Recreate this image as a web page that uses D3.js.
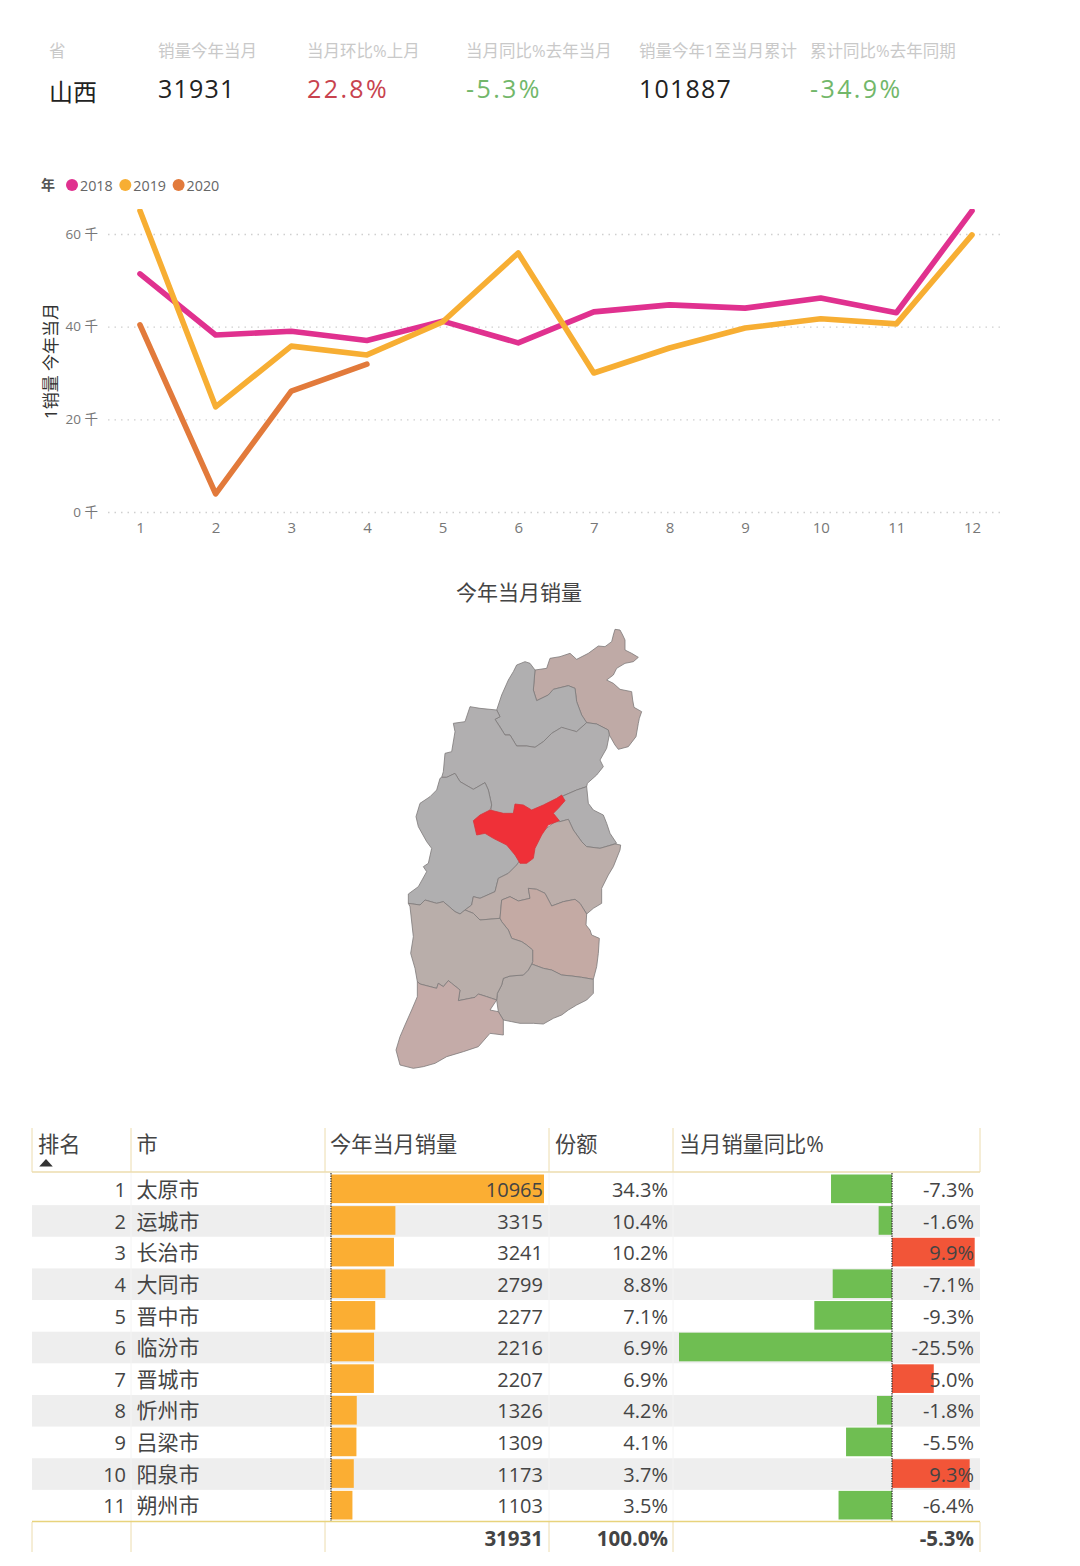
<!DOCTYPE html>
<html><head><meta charset="utf-8">
<script src="https://cdn.jsdelivr.net/npm/d3@7"></script>
<style>
html,body{margin:0;padding:0;background:#fff}
svg{display:block}
text{font-family:"Open Sans","Noto Sans CJK SC",sans-serif}
</style></head><body>
<svg id="c" width="1080" height="1566"></svg>
<script>
// ---------- data ----------
const kpiLabels=["省","销量今年当月","当月环比%上月","当月同比%去年当月","销量今年1至当月累计","累计同比%去年同期"];
const kpiValues=["山西","31931","22.8%","-5.3%","101887","-34.9%"];
const months=[1,2,3,4,5,6,7,8,9,10,11,12];
const years=["2018","2019","2020"];
const sales2018=[51400,38200,39000,37000,41200,36500,43200,44700,44000,46200,43000,65000];
const sales2019=[65000,22700,35800,33900,41000,55900,30000,35400,39700,41700,40600,59800];
const sales2020=[40400,3900,26100,31900];
const yTicks=[0,20000,40000,60000];
const tableHeaders=["排名","市","今年当月销量","份额","当月销量同比%"];
const ranks=[1,2,3,4,5,6,7,8,9,10,11];
const cities=["太原市","运城市","长治市","大同市","晋中市","临汾市","晋城市","忻州市","吕梁市","阳泉市","朔州市"];
const citySales=[10965,3315,3241,2799,2277,2216,2207,1326,1309,1173,1103];
const cityShare=[34.3,10.4,10.2,8.8,7.1,6.9,6.9,4.2,4.1,3.7,3.5];
const cityYoy=[-7.3,-1.6,9.9,-7.1,-9.3,-25.5,5.0,-1.8,-5.5,9.3,-6.4];
const totals=["31931","100.0%","-5.3%"];
// map outlines, in survey units
const shapeDatong=[[705,28],[720,30],[728,45],[735,60],[735,90],[755,100],[775,112],[760,125],[735,130],[710,145],[700,165],[680,180],[700,190],[720,208],[755,215],[758,240],[762,262],[785,275],[778,295],[775,310],[768,350],[745,380],[715,388],[705,375],[688,345],[685,330],[650,312],[620,308],[605,285],[590,245],[585,205],[565,197],[520,208],[505,225],[470,242],[460,210],[465,150],[500,145],[510,115],[540,110],[570,100],[590,118],[625,100],[655,78],[675,80],[695,65],[700,45]];
const shapeShuozhou=[[465,150],[450,130],[435,125],[410,135],[400,155],[385,180],[365,225],[350,270],[360,290],[345,298],[360,320],[375,345],[390,345],[410,378],[440,378],[465,382],[490,365],[515,340],[545,322],[565,330],[590,335],[620,308],[605,285],[590,245],[585,205],[565,197],[520,208],[505,225],[470,242],[460,210]];
const shapeXinzhou=[[270,260],[300,265],[350,270],[360,290],[345,298],[375,345],[390,345],[410,378],[440,378],[465,382],[490,365],[515,340],[545,322],[590,335],[620,308],[650,312],[685,330],[688,345],[680,385],[660,420],[670,440],[650,465],[622,490],[620,500],[590,510],[550,527],[525,560],[490,590],[440,590],[410,590],[380,590],[330,590],[335,555],[325,510],[315,488],[280,508],[240,485],[225,460],[200,472],[185,472],[190,455],[195,400],[215,395],[225,335],[220,310],[255,305]];
const shapeLvliang=[[185,472],[200,472],[225,460],[240,485],[280,508],[315,488],[325,510],[335,555],[330,570],[350,600],[380,640],[415,690],[425,720],[410,735],[385,760],[355,775],[345,815],[300,835],[280,830],[275,855],[255,870],[240,882],[225,875],[190,845],[170,850],[135,840],[120,855],[85,850],[85,822],[115,800],[140,755],[130,740],[145,730],[155,685],[140,665],[115,620],[108,590],[120,550],[150,530],[170,510],[180,475]];
const shapeYangquan=[[620,500],[625,550],[640,570],[670,585],[680,610],[690,640],[710,670],[660,685],[620,680],[605,665],[580,630],[565,598],[540,605],[515,590],[525,560],[545,530],[590,510]];
const shapeJinzhong=[[540,605],[565,598],[580,630],[605,665],[620,680],[660,685],[705,672],[722,675],[720,690],[700,740],[685,765],[665,805],[665,850],[640,865],[620,882],[600,850],[585,838],[550,845],[515,858],[495,820],[470,808],[445,805],[450,835],[415,843],[390,830],[365,840],[360,895],[300,900],[280,880],[255,870],[275,855],[280,830],[300,835],[345,815],[355,775],[385,760],[410,735],[420,720],[440,715],[450,690],[480,640],[525,605]];
const shapeChangzhi=[[365,840],[390,830],[415,843],[450,835],[445,805],[470,808],[495,820],[515,858],[550,845],[585,838],[600,850],[620,882],[618,915],[630,930],[635,945],[658,955],[655,1000],[650,1040],[640,1078],[605,1072],[575,1068],[545,1065],[515,1050],[490,1045],[455,1032],[458,1025],[458,990],[440,975],[425,965],[395,955],[385,930],[365,905],[360,895]];
const shapeJincheng=[[640,1078],[640,1120],[620,1140],[590,1155],[565,1170],[545,1185],[520,1195],[490,1212],[460,1210],[420,1210],[395,1205],[370,1200],[355,1175],[350,1140],[352,1120],[365,1095],[370,1075],[390,1068],[430,1065],[445,1050],[455,1032],[490,1045],[515,1050],[545,1065],[575,1068],[605,1072]];
const shapeLinfen=[[85,850],[120,855],[135,840],[170,850],[190,845],[225,875],[240,882],[255,870],[280,880],[300,900],[360,895],[365,905],[385,930],[395,955],[425,965],[440,975],[458,990],[458,1025],[455,1032],[445,1050],[430,1065],[390,1068],[370,1075],[365,1095],[352,1120],[350,1140],[335,1135],[320,1130],[295,1122],[285,1132],[235,1142],[240,1110],[215,1090],[205,1082],[190,1100],[175,1090],[170,1105],[120,1092],[112,1085],[105,1045],[92,1000],[100,950],[90,860]];
const shapeYuncheng=[[112,1085],[120,1092],[170,1105],[175,1090],[190,1100],[205,1082],[215,1090],[240,1110],[235,1142],[285,1132],[295,1122],[320,1130],[335,1135],[350,1140],[330,1170],[355,1175],[370,1200],[370,1245],[330,1240],[295,1280],[250,1295],[200,1310],[165,1330],[130,1340],[100,1345],[60,1335],[48,1290],[60,1250],[75,1215],[95,1170],[112,1130]];
const shapeTaiyuan=[[280,602],[300,585],[330,570],[370,580],[400,580],[405,552],[430,555],[455,570],[490,555],[530,535],[545,525],[555,542],[535,565],[520,580],[538,602],[505,615],[485,645],[465,685],[460,715],[440,730],[420,730],[405,705],[380,675],[340,655],[315,640],[290,645]];
const mapShapes=[shapeDatong,shapeShuozhou,shapeXinzhou,shapeLvliang,shapeYangquan,shapeJinzhong,shapeChangzhi,shapeJincheng,shapeLinfen,shapeYuncheng];
const mapFills=["#bfaaa6","#b0afb0","#b1afb0","#b0afb0","#b1afb0","#bcaeaa","#c4aaa4","#b6adaa","#b9aeaa","#c4aba8"];

// ---------- drawing ----------
const svg=d3.select("#c");
const ink="#444";

// KPI strip
const kpiX=[49,158,307,466,639,810];
const kpiColors=["#222","#222","#c8434e","#72b76a","#222","#72b76a"];
svg.append("g").selectAll("text").data(kpiLabels).join("text")
  .attr("x",(d,i)=>kpiX[i]).attr("y",57).attr("font-size",16.5).attr("fill","#c9c9c9").text(d=>d);
svg.append("g").selectAll("text").data(kpiValues).join("text")
  .attr("x",(d,i)=>kpiX[i]).attr("y",(d,i)=>i?98:101)
  .attr("font-size",(d,i)=>i?25:24).attr("letter-spacing",(d,i)=>!i?0:(d.includes("%")?2.4:1.2))
  .attr("fill",(d,i)=>kpiColors[i]).text(d=>d);

// line chart
const xL=d3.scaleLinear().domain([1,12]).range([140,972]);
const yL=d3.scaleLinear().domain([0,60000]).range([512,234]);
const gridLeft=108,gridRight=1002;
const yAxis=d3.axisLeft(yL).tickValues(yTicks).tickFormat(d=>(d/1000)+" 千").tickSize(0).tickPadding(10);
const gy=svg.append("g").attr("transform",`translate(${gridLeft},0)`).call(yAxis);
gy.select(".domain").remove();
gy.selectAll("text").attr("font-size",13.5).attr("fill","#777");
gy.selectAll("line").attr("x2",gridRight-gridLeft).attr("stroke","#cfcfcf").attr("stroke-width",1.4).attr("stroke-dasharray","1.5 5");
const xAxis=d3.axisBottom(xL).tickValues(months).tickFormat(d3.format("d")).tickSize(0).tickPadding(10.5);
const gx=svg.append("g").attr("transform","translate(0,512)").call(xAxis);
gx.select(".domain").remove();
gx.selectAll("text").attr("font-size",15).attr("fill","#777");
svg.append("text").attr("transform","translate(57,361) rotate(-90)").attr("text-anchor","middle")
  .attr("font-size",17).attr("fill","#333").text("1销量 今年当月");
svg.append("defs").append("clipPath").attr("id","plot").append("rect")
  .attr("x",gridLeft).attr("y",209).attr("width",gridRight-gridLeft).attr("height",320);
const lineColors=["#e0318f","#f7ae33","#e27a3b"];
const line=d3.line().x((d,i)=>xL(months[i])).y(d=>yL(d));
const series=[sales2018,sales2019,sales2020];
svg.append("g").attr("clip-path","url(#plot)").selectAll("path").data(series).join("path")
  .attr("d",line).attr("fill","none").attr("stroke",(d,i)=>lineColors[i]).attr("stroke-width",5.6)
  .attr("stroke-linejoin","round").attr("stroke-linecap","round");
// legend
svg.append("text").attr("x",41).attr("y",190).attr("font-size",14).attr("font-weight",700).attr("fill","#555").text("年");
const lg=svg.append("g").selectAll("g").data(years).join("g")
  .attr("transform",(d,i)=>`translate(${72+i*53.3},185)`);
lg.append("circle").attr("r",6).attr("fill",(d,i)=>lineColors[i]);
lg.append("text").attr("x",8).attr("y",5.5).attr("font-size",14.3).attr("fill","#666").text(d=>d);

// map
svg.append("text").attr("x",519).attr("y",600).attr("text-anchor","middle").attr("font-size",21).attr("fill",ink).text("今年当月销量");
const mx=d3.scaleLinear().domain([0,810]).range([380,650]);
const my=d3.scaleLinear().domain([0,1365]).range([620,1075]);
const outline=d3.line().x(d=>mx(d[0])).y(d=>my(d[1])).curve(d3.curveLinearClosed);
const gm=svg.append("g");
mapShapes.forEach((s,i)=>{
  gm.append("path").attr("d",outline(s)).attr("fill",mapFills[i]).attr("stroke","#7d7a7a").attr("stroke-width",0.8).attr("stroke-linejoin","round");
});
gm.append("path").attr("d",outline(shapeTaiyuan)).attr("fill","#ef3038").attr("stroke","#d9333a").attr("stroke-width",0.8);

// table
const colX=[32,131,325,549,673,980];
const rowY=d3.scaleBand().domain(ranks).range([1173,1521]);
const grid="#ecdcae";
const gt=svg.append("g");
gt.selectAll("rect.bg").data(ranks.filter(r=>r%2===0)).join("rect").attr("class","bg")
  .attr("x",colX[0]).attr("y",d=>rowY(d)+0.5).attr("width",colX[5]-colX[0]).attr("height",rowY.bandwidth()).attr("fill","#eeeeee");
[1,2,3,4].forEach(i=>{
  gt.append("line").attr("x1",colX[i]).attr("x2",colX[i]).attr("y1",1173).attr("y2",1521).attr("stroke","#f4f4f4");
});
colX.forEach(x=>{
  gt.append("line").attr("x1",x).attr("x2",x).attr("y1",1128).attr("y2",1172).attr("stroke",grid);
  gt.append("line").attr("x1",x).attr("x2",x).attr("y1",1522).attr("y2",1552).attr("stroke",grid);
});
gt.append("line").attr("x1",colX[0]).attr("x2",colX[5]).attr("y1",1172).attr("y2",1172).attr("stroke",grid).attr("stroke-width",1.5);
gt.append("line").attr("x1",colX[0]).attr("x2",colX[5]).attr("y1",1521.5).attr("y2",1521.5).attr("stroke","#e8d37c").attr("stroke-width",1.5);
const headX=[38,136.5,330,555,679];
gt.selectAll("text.h").data(tableHeaders).join("text").attr("class","h")
  .attr("x",(d,i)=>headX[i]).attr("y",1152).attr("font-size",21.2).attr("fill",ink).text(d=>d);
gt.append("path").attr("d",d3.symbol(d3.symbolTriangle,80)()).attr("transform","translate(46,1164) scale(1,0.65)").attr("fill","#333");

const xS=d3.scaleLinear().domain([0,d3.max(citySales)]).range([331,544]);
const xY=d3.scaleLinear().domain([0,-25.5]).range([892,679]);
const pad=1.5;
gt.selectAll("rect.s").data(citySales).join("rect").attr("class","s")
  .attr("x",xS(0)).attr("y",(d,i)=>rowY(ranks[i])+pad).attr("width",d=>xS(d)-xS(0))
  .attr("height",rowY.bandwidth()-2*pad).attr("fill","#fbae33");
gt.selectAll("rect.y").data(cityYoy).join("rect").attr("class","y")
  .attr("x",d=>Math.min(xY(d),xY(0))).attr("y",(d,i)=>rowY(ranks[i])+pad).attr("width",d=>Math.abs(xY(d)-xY(0)))
  .attr("height",rowY.bandwidth()-2*pad).attr("fill",d=>d<0?"#6fbe52":"#f25538");
[xS(0),xY(0)].forEach(x=>{
  gt.append("line").attr("x1",x).attr("x2",x).attr("y1",1173).attr("y2",1521).attr("stroke","#333").attr("stroke-width",1.2).attr("stroke-dasharray","1.5 1");
});
const cell=(vals,x,anchor,size)=>gt.append("g").selectAll("text").data(vals).join("text")
  .attr("x",x).attr("y",(d,i)=>rowY(ranks[i])+24).attr("text-anchor",anchor)
  .attr("font-size",size).attr("fill",ink).text(d=>d);
cell(ranks,126,"end",20);
cell(cities,136.5,"start",21);
cell(citySales,543,"end",20);
cell(cityShare.map(v=>v.toFixed(1)+"%"),668,"end",20);
cell(cityYoy.map(v=>v.toFixed(1)+"%"),974,"end",20);
gt.selectAll("text.t").data(totals).join("text").attr("class","t")
  .attr("x",(d,i)=>[543,668,974][i]).attr("y",1546).attr("text-anchor","end")
  .attr("font-size",20.5).attr("font-weight",700).attr("fill",ink).text(d=>d);
</script>
</body></html>
